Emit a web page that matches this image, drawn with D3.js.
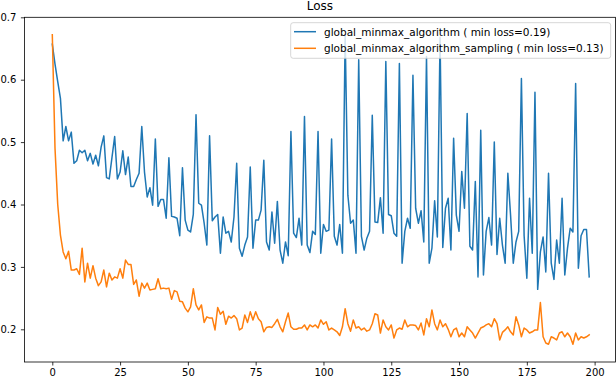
<!DOCTYPE html>
<html>
<head>
<meta charset="utf-8">
<script src="https://cdn.jsdelivr.net/npm/d3@7"></script>
<style>
  html, body { margin: 0; padding: 0; background: #fff; }
  svg { display: block; font-family: "DejaVu Sans", sans-serif; }
</style>
</head>
<body>
<svg id="chart" width="616" height="378"></svg>
<script>
const title = "Loss";
const seriesNames = [
  "global_minmax_algorithm ( min loss=0.19)",
  "global_minmax_algorithm_sampling ( min loss=0.13)"
];
const xTicks = [0, 25, 50, 75, 100, 125, 150, 175, 200];
const yTicks = [0.2, 0.3, 0.4, 0.5, 0.6, 0.7];

const lossGlobal = [
0.657,0.625,0.597,0.570,0.502,0.525,0.502,0.516,0.466,0.470,
0.487,0.483,0.487,0.470,0.482,0.465,0.479,0.462,0.492,0.510,
0.443,0.441,0.475,0.509,0.441,0.452,0.486,0.448,0.476,0.429,
0.429,0.440,0.450,0.525,0.452,0.412,0.427,0.399,0.505,0.397,
0.408,0.408,0.378,0.475,0.381,0.380,0.378,0.350,0.459,0.375,
0.359,0.356,0.384,0.544,0.402,0.399,0.370,0.335,0.510,0.374,
0.380,0.384,0.322,0.380,0.354,0.357,0.340,0.380,0.466,0.330,
0.317,0.335,0.348,0.460,0.330,0.375,0.375,0.391,0.471,0.340,
0.327,0.388,0.338,0.405,0.327,0.306,0.340,0.318,0.517,0.354,
0.347,0.378,0.335,0.541,0.335,0.323,0.357,0.352,0.517,0.322,
0.368,0.357,0.359,0.505,0.349,0.335,0.368,0.322,0.672,0.415,
0.370,0.375,0.322,0.632,0.349,0.327,0.346,0.357,0.543,0.372,
0.371,0.411,0.354,0.629,0.384,0.382,0.354,0.349,0.626,0.306,
0.357,0.378,0.362,0.607,0.394,0.370,0.390,0.340,0.637,0.306,
0.330,0.406,0.348,0.668,0.331,0.394,0.410,0.327,0.506,0.383,
0.357,0.453,0.394,0.546,0.333,0.327,0.437,0.284,0.519,0.287,
0.357,0.379,0.335,0.500,0.320,0.378,0.335,0.306,0.450,0.383,
0.306,0.340,0.357,0.602,0.350,0.282,0.410,0.322,0.580,0.264,
0.324,0.348,0.292,0.450,0.306,0.280,0.343,0.306,0.410,0.287,
0.330,0.362,0.356,0.594,0.298,0.350,0.360,0.360,0.284
];

const lossSampling = [
0.672,0.490,0.400,0.351,0.324,0.313,0.325,0.295,0.295,0.297,
0.288,0.330,0.276,0.306,0.282,0.302,0.282,0.270,0.276,0.295,
0.268,0.290,0.279,0.284,0.282,0.297,0.282,0.311,0.304,0.304,
0.272,0.279,0.253,0.274,0.266,0.274,0.263,0.264,0.265,0.281,
0.265,0.266,0.265,0.266,0.248,0.262,0.260,0.245,0.244,0.234,
0.228,0.236,0.265,0.239,0.231,0.239,0.211,0.220,0.218,0.218,
0.199,0.235,0.224,0.229,0.208,0.221,0.218,0.222,0.217,0.199,
0.202,0.223,0.211,0.228,0.215,0.228,0.217,0.212,0.196,0.203,
0.204,0.203,0.209,0.216,0.204,0.196,0.212,0.226,0.204,0.200,
0.200,0.202,0.202,0.207,0.199,0.207,0.204,0.207,0.202,0.215,
0.208,0.212,0.199,0.202,0.199,0.196,0.190,0.204,0.233,0.209,
0.197,0.215,0.202,0.204,0.199,0.202,0.197,0.199,0.209,0.225,
0.223,0.194,0.215,0.204,0.199,0.207,0.186,0.199,0.202,0.200,
0.215,0.204,0.207,0.207,0.206,0.199,0.210,0.191,0.217,0.204,
0.231,0.209,0.199,0.215,0.204,0.209,0.200,0.188,0.199,0.202,
0.188,0.194,0.188,0.204,0.199,0.194,0.186,0.194,0.202,0.204,
0.207,0.209,0.204,0.217,0.209,0.183,0.195,0.199,0.204,0.196,
0.191,0.220,0.207,0.188,0.202,0.199,0.194,0.196,0.199,0.199,
0.243,0.188,0.178,0.176,0.188,0.186,0.183,0.194,0.196,0.188,
0.194,0.188,0.176,0.194,0.183,0.188,0.186,0.188,0.191
];

const colors = ["#1f77b4", "#ff7f0e"];

const svg = d3.select("#chart");
const L = 24.4, R = 615.5, T = 17.3, B = 362;

const x = d3.scaleLinear().domain([-10.29, 207.7]).range([L, R]);
const y = d3.scaleLinear().domain([0.1476, 0.7]).range([B, T]);

const series = [lossGlobal, lossSampling];
const line = d3.line().x((d, i) => x(i)).y(d => y(d));

const plot = svg.append("g");
series.forEach((s, k) => {
  plot.append("path")
    .datum(s)
    .attr("fill", "none")
    .attr("stroke", colors[k])
    .attr("stroke-width", 1.5)
    .attr("stroke-linejoin", "round")
    .attr("stroke-linecap", "square")
    .attr("d", line);
});

// axes
const xAxis = d3.axisBottom(x).tickValues(xTicks).tickSize(3.5).tickPadding(3.5).tickFormat(d3.format("d"));
const yAxis = d3.axisLeft(y).tickValues(yTicks).tickSize(3.5).tickPadding(4.5).tickFormat(d3.format(".1f"));

const gx = svg.append("g").attr("transform", `translate(0,${B})`).call(xAxis);
const gy = svg.append("g").attr("transform", `translate(${L},0)`).call(yAxis);
[gx, gy].forEach(g => {
  g.select(".domain").remove();
  g.selectAll(".tick line").attr("stroke", "#000").attr("stroke-width", 0.8);
  g.selectAll(".tick text").attr("fill", "#000").style("font-size", "10px")
    .style("font-family", "'DejaVu Sans', sans-serif");
});

// spines
svg.append("rect")
  .attr("x", L).attr("y", T).attr("width", R - L).attr("height", B - T)
  .attr("fill", "none").attr("stroke", "#000").attr("stroke-width", 0.8);

// title
svg.append("text")
  .attr("x", (L + R) / 2).attr("y", 10.3)
  .attr("text-anchor", "middle")
  .style("font-size", "12px")
  .attr("fill", "#000")
  .text(title);

// legend
const lg = svg.append("g");
lg.append("rect")
  .attr("x", 290.7).attr("y", 22.7).attr("width", 320).attr("height", 35.6)
  .attr("rx", 2.5).attr("ry", 2.5)
  .attr("fill", "#fff").attr("fill-opacity", 0.8)
  .attr("stroke", "#cccccc").attr("stroke-width", 0.8);
seriesNames.forEach((name, k) => {
  const cy = 31.7 + k * 16.6;
  lg.append("line")
    .attr("x1", 294).attr("x2", 316).attr("y1", cy).attr("y2", cy)
    .attr("stroke", colors[k]).attr("stroke-width", 1.5);
  lg.append("text")
    .attr("x", 324).attr("y", cy + 3.8)
    .style("font-size", "10.5px")
    .attr("fill", "#000")
    .text(name);
});
</script>
</body>
</html>
